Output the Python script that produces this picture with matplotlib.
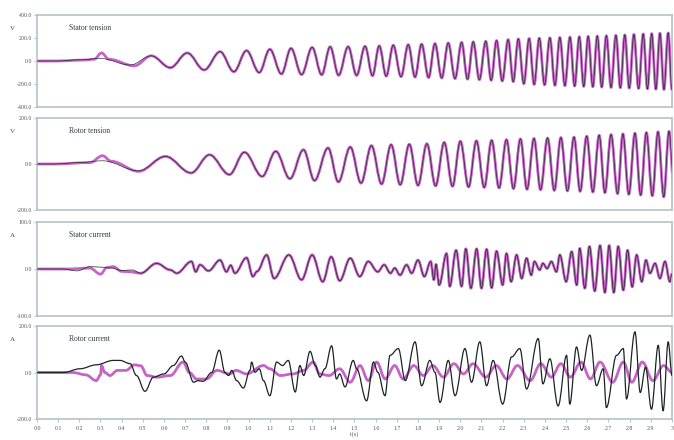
import numpy as np
import matplotlib
matplotlib.use("Agg")
import matplotlib.pyplot as plt
from matplotlib.path import Path
from matplotlib.patches import PathPatch
from matplotlib.ticker import FormatStrFormatter

plt.rcParams["font.family"] = ["Liberation Serif", "DejaVu Serif"]

# ---- stator tension (V): start-up part, then shared oscillation extrema
vs_sim_early_t = [0, 0.09, 0.2, 0.3, 0.44]
vs_sim_early_v = [0, 0, 10, 22, -35]
vs_meas_early_t = [0, 0.09, 0.22, 0.27, 0.305, 0.34, 0.46]
vs_meas_early_v = [0, 0, 8, 15, 70, 15, -42]
vs_peak_t = [0.54, 0.71, 0.865, 0.99, 1.10, 1.20, 1.30, 1.385, 1.47, 1.55,
             1.617, 1.683, 1.754, 1.817, 1.88, 1.943, 2.006, 2.061, 2.12, 2.171,
             2.226, 2.274, 2.325, 2.373, 2.423, 2.47, 2.518, 2.562, 2.604, 2.647,
             2.69, 2.735, 2.777, 2.82, 2.864, 2.904, 2.943, 2.982]
vs_peak_v = [45, 70, 81, 90, 102, 110, 118, 124, 125, 128,
             132, 137, 142, 147, 152, 157, 162, 167, 172, 178,
             186, 192, 196, 199, 202, 205, 208, 211, 214, 217,
             220, 223, 227, 231, 235, 238, 241, 244]
vs_trough_t = [0.63, 0.79, 0.93, 1.05, 1.155, 1.25, 1.345, 1.425, 1.51, 1.585,
               1.65, 1.72, 1.786, 1.85, 1.912, 1.975, 2.034, 2.09, 2.146, 2.198,
               2.25, 2.30, 2.349, 2.398, 2.447, 2.494, 2.54, 2.583, 2.626, 2.668,
               2.712, 2.756, 2.798, 2.842, 2.884, 2.924, 2.962, 3.0]
vs_trough_v = [-58, -78, -93, -100, -113, -118, -120, -124, -125, -128,
               -132, -136, -140, -144, -148, -153, -158, -163, -168, -174,
               -180, -198, -204, -208, -212, -215, -218, -221, -224, -227,
               -230, -233, -236, -239, -242, -245, -248, -250]

# ---- rotor tension (V)
vr_sim_early_t = [0, 0.08, 0.2, 0.31, 0.48]
vr_sim_early_v = [0, 0, 6, 14, -30]
vr_meas_early_t = [0, 0.08, 0.25, 0.31, 0.35, 0.48]
vr_meas_early_v = [0, 0, 6, 36, 12, -32]
vr_peak_t = [0.607, 0.815, 0.98, 1.128, 1.259, 1.375, 1.48, 1.58, 1.673, 1.759,
             1.842, 1.924, 2.0, 2.076, 2.148, 2.218, 2.284, 2.348, 2.412, 2.475,
             2.537, 2.597, 2.656, 2.712, 2.768, 2.825, 2.879, 2.934, 2.986]
vr_peak_v = [33, 40, 51, 55, 62, 70, 74, 80, 84, 86,
             88, 94, 99, 101, 103, 106, 109, 111, 113, 115,
             117, 121, 125, 128, 131, 134, 137, 140, 142]
vr_trough_t = [0.728, 0.909, 1.064, 1.195, 1.311, 1.424, 1.531, 1.628, 1.716, 1.8,
               1.883, 1.963, 2.039, 2.113, 2.183, 2.251, 2.315, 2.379, 2.444, 2.506,
               2.566, 2.626, 2.683, 2.743, 2.796, 2.852, 2.907, 2.961, 3.012]
vr_trough_v = [-39, -46, -54, -64, -72, -78, -83, -87, -90, -93,
               -95, -97, -100, -102, -104, -107, -110, -112, -115, -117,
               -119, -122, -125, -129, -132, -135, -138, -143, -145]

# ---- stator current (A)
is_sim_early_t = [0, 0.12, 0.19, 0.25, 0.30, 0.35, 0.40, 0.45]
is_sim_early_v = [0, 0, -4, 5, 4, 2, -3, -2]
is_meas_early_t = [0, 0.15, 0.25, 0.30, 0.33, 0.36, 0.40, 0.44]
is_meas_early_v = [0, 0, 2, -11, 3, 5, -5, -6]
is_t = [0.49, 0.565, 0.63, 0.66, 0.73, 0.75, 0.77, 0.81, 0.865, 0.895,
        0.915, 0.935, 0.99, 1.02, 1.04, 1.085, 1.12, 1.19, 1.25, 1.30,
        1.35, 1.39, 1.43, 1.48, 1.525, 1.565, 1.61, 1.64, 1.67, 1.69,
        1.715, 1.746, 1.77, 1.80, 1.83, 1.86, 1.875, 1.885, 1.90, 1.935,
        1.95, 1.98, 2.006, 2.026, 2.05, 2.077, 2.10, 2.124, 2.148, 2.171,
        2.20, 2.218, 2.24, 2.266, 2.29, 2.313, 2.335, 2.35, 2.375, 2.39,
        2.41, 2.43, 2.454, 2.47, 2.50, 2.526, 2.55, 2.564, 2.588, 2.61,
        2.635, 2.66, 2.683, 2.703, 2.725, 2.746, 2.77, 2.79, 2.812, 2.833,
        2.857, 2.877, 2.896, 2.92, 2.943, 2.967, 2.99, 3.0]
is_v = [-9, 12, -2, -9, 16, -6, 9, -4, 19, -6,
        8, -9, 24, -16, -5, 30, -20, 30, -23, 30,
        -27, 26, -25, 23, -16, 16, -6, 9, -9, 2,
        -13, 9, -9, 19, -16, 16, -23, 10, -34, 33,
        -37, 40, -37, 43, -41, 43, -41, 42, -40, 38,
        -34, 33, -27, 30, -20, 23, -13, 16, -2, 12,
        1, 16, -6, 30, -27, 37, -34, 44, -41, 48,
        -47, 50, -50, 50, -50, 48, -45, 40, -38, 30,
        -27, 19, -9, 12, -20, 16, -27, -10]

# ---- rotor current (A)
ir_sim_t = [0, 0.125, 0.203, 0.28, 0.36, 0.392, 0.44, 0.47, 0.51, 0.55,
            0.60, 0.644, 0.683, 0.70, 0.74, 0.76, 0.785, 0.825, 0.861, 0.888,
            0.905, 0.92, 0.943, 0.975, 1.006, 1.014, 1.03, 1.05, 1.07, 1.10,
            1.132, 1.16, 1.187, 1.22, 1.242, 1.26, 1.29, 1.315, 1.337, 1.36,
            1.392, 1.415, 1.43, 1.455, 1.494, 1.51, 1.557, 1.59, 1.61, 1.644,
            1.668, 1.707, 1.74, 1.786, 1.817, 1.856, 1.88, 1.904, 1.943, 1.975,
            2.022, 2.053, 2.092, 2.124, 2.155, 2.20, 2.242, 2.281, 2.313, 2.368,
            2.39, 2.423, 2.462, 2.502, 2.517, 2.549, 2.573, 2.612, 2.643, 2.675,
            2.69, 2.738, 2.77, 2.785, 2.825, 2.85, 2.875, 2.903, 2.935, 2.958,
            2.982, 3.0]
ir_sim_v = [0, 0, 16, 33, 52, 52, 38, -13, -81, -20,
            -6, 30, 71, 45, -42, -35, -38, 0, 96, 0,
            -13, 9, -35, -67, 9, 45, 1, 16, -35, -100,
            45, 30, 52, -84, 30, -13, 91, 30, -20, 16,
            115, -28, -6, -62, 52, 16, -122, 45, 1, -100,
            74, 103, -35, 132, -57, 52, 1, -129, 52, -100,
            103, -42, 132, -57, 52, -136, 67, 103, -71, 146,
            -49, 59, -144, 74, -136, 110, 9, 161, -57, 16,
            -151, 74, 103, -114, 175, -86, 23, -158, 117, -165,
            132, -13]
ir_meas_t = [0, 0.17, 0.23, 0.28, 0.30, 0.305, 0.32, 0.345, 0.38, 0.42,
             0.46, 0.49, 0.52, 0.565, 0.63, 0.69, 0.72, 0.754, 0.80, 0.85,
             0.91, 0.94, 0.99, 1.07, 1.10, 1.15, 1.21, 1.26, 1.305, 1.335,
             1.38, 1.43, 1.48, 1.526, 1.565, 1.605, 1.645, 1.69, 1.73, 1.78,
             1.825, 1.87, 1.92, 1.97, 2.015, 2.06, 2.12, 2.17, 2.22, 2.27,
             2.33, 2.38, 2.43, 2.475, 2.52, 2.57, 2.615, 2.66, 2.72, 2.77,
             2.81, 2.86, 2.91, 2.96, 3.0]
ir_meas_v = [0, 0, -10, -35, -10, 30, 0, -13, 9, 9,
             33, 29, -13, -20, -13, 45, 0, -28, -28, 9,
             -6, 9, -6, 30, 16, -13, -6, 9, 45, -6,
             -13, 16, -42, 30, -35, 45, -28, 30, -28, 30,
             -13, 30, -20, 38, -6, 38, -20, 30, -28, 30,
             -35, 38, -20, 38, -20, 45, -28, 45, -42, 45,
             -42, 45, -35, 30, 0]

titles = ["Stator tension", "Rotor tension", "Stator current", "Rotor current"]
units = ["V", "V", "A", "A"]
yticks = [[-400, -200, 0, 200, 400], [-200, 0, 200], [-100, 0, 100], [-200, 0, 200]]
xticks = np.round(np.arange(0, 3.01, 0.1), 1)
xticklabels = [f"{x:.1f}" for x in xticks[:-1]] + ["3"]

SIM = "#1c2426"
MEAS = "#c664c6"
FRAME = "#b3c2cc"


def merge(t1, v1, t2, v2):
    t = np.concatenate([t1, t2])
    v = np.concatenate([v1, v2])
    order = np.argsort(t)
    return t[order], v[order]


def smooth_curve(ax, t, v, k=0.36, **kw):
    # cubic bezier through the read points, flat tangent at each one
    verts = [(t[0], v[0])]
    codes = [Path.MOVETO]
    for i in range(len(t) - 1):
        dt = t[i + 1] - t[i]
        verts += [(t[i] + k * dt, v[i]), (t[i + 1] - k * dt, v[i + 1]), (t[i + 1], v[i + 1])]
        codes += [Path.CURVE4] * 3
    ax.add_patch(PathPatch(Path(verts, codes), fill=False, capstyle="round",
                           joinstyle="round", **kw))


vs_t, vs_v = merge(vs_peak_t, vs_peak_v, vs_trough_t, vs_trough_v)
vr_t, vr_v = merge(vr_peak_t, vr_peak_v, vr_trough_t, vr_trough_v)

series = [
    ((vs_sim_early_t + list(vs_t), vs_sim_early_v + list(vs_v)),
     (vs_meas_early_t + list(vs_t), vs_meas_early_v + list(vs_v))),
    ((vr_sim_early_t + list(vr_t), vr_sim_early_v + list(vr_v)),
     (vr_meas_early_t + list(vr_t), vr_meas_early_v + list(vr_v))),
    ((is_sim_early_t + is_t, is_sim_early_v + is_v),
     (is_meas_early_t + is_t, is_meas_early_v + is_v)),
    ((ir_sim_t, ir_sim_v), (ir_meas_t, ir_meas_v)),
]
sim_width = [0.45, 0.45, 0.5, 0.9]

# axes boxes in pixels: top, bottom (figure 674 x 440)
boxes = [(15, 107), (118, 210), (222, 316), (326, 419)]
W, H = 674, 440
left, right = 37, 672

fig = plt.figure(figsize=(W / 100, H / 100), dpi=100)
for i, (top, bot) in enumerate(boxes):
    ax = fig.add_axes([left / W, 1 - bot / H, (right - left) / W, (bot - top) / H])
    (st, sv), (mt, mv) = series[i]
    smooth_curve(ax, mt, mv, edgecolor=MEAS, lw=2.0, zorder=2)
    smooth_curve(ax, st, sv, edgecolor=SIM, lw=sim_width[i], zorder=3)

    ax.set_xlim(0, 3.0)
    ax.set_ylim(yticks[i][0], yticks[i][-1])
    ax.set_yticks(yticks[i])
    ax.yaxis.set_major_formatter(FormatStrFormatter("%.1f"))
    ax.tick_params(axis="y", direction="out", length=2, width=0.8, color=FRAME,
                   labelsize=4.2, labelcolor="#555555", pad=1.5)
    ax.set_xticks(xticks)
    if i == 3:
        ax.set_xticklabels(xticklabels)
        ax.tick_params(axis="x", direction="out", length=2, width=0.8, color=FRAME,
                       labelsize=4.2, labelcolor="#555555", pad=3)
        ax.set_xlabel("t(s)", fontsize=4.5, color="#555555", labelpad=0)
    else:
        ax.tick_params(axis="x", length=0, labelbottom=False)
    for sp in ax.spines.values():
        sp.set_color(FRAME)
        sp.set_linewidth(1.2)
    ax.text(0.05, 0.86, titles[i], transform=ax.transAxes, fontsize=5.5,
            color="#2e3d4a", va="center")
    ax.set_ylabel(units[i], rotation=0, fontsize=5, color="#444444")
    ax.yaxis.set_label_coords(-0.038, 0.83)

fig.savefig("out.png", dpi=100)
